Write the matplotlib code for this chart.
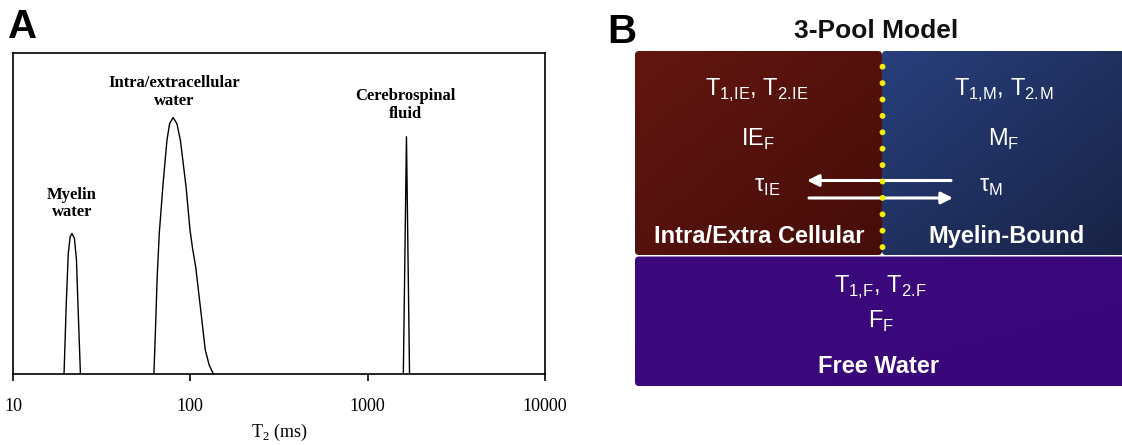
import numpy as np
import matplotlib
matplotlib.use("Agg")
import matplotlib.pyplot as plt
from matplotlib.patches import FancyBboxPatch, Circle

# T2 distribution (amplitude normalised to the axes height)
myelin_t2 = [19.4, 20.0, 20.5, 21.0, 21.5, 22.2, 22.8, 23.2, 24.0]
myelin_amp = [0, 0.23, 0.376, 0.427, 0.438, 0.422, 0.355, 0.23, 0]

ie_t2 = [62.3, 63.5, 65.0, 66.8, 70.2, 73.8, 76.4, 80.0, 84.0, 87.9, 94.6,
         99.5, 103.0, 107.2, 115.6, 121.4, 127.7, 134.9]
ie_amp = [0, 0.127, 0.30, 0.438, 0.593, 0.728, 0.780, 0.799, 0.780, 0.728,
          0.583, 0.45, 0.39, 0.334, 0.178, 0.075, 0.028, 0]

csf_t2 = [1589, 1655, 1722]
csf_amp = [0, 0.739, 0]

peak_labels = ["Myelin\nwater", "Intra/extracellular\nwater", "Cerebrospinal\nfluid"]
peak_label_x = [21.5, 81.5, 1637]
peak_label_y = [0.531, 0.879, 0.837]

x_ticks = [10, 100, 1000, 10000]
x_tick_labels = ["10", "100", "1000", "10000"]

fig = plt.figure(figsize=(11.22, 4.45), dpi=100)

# ---------------- panel A ----------------
serif = "Liberation Serif"
ax = fig.add_axes([13 / 1122, (445 - 374) / 445, (545 - 13) / 1122, (374 - 53) / 445])
ax.plot(myelin_t2, myelin_amp, color="black", lw=1.0)
ax.plot(ie_t2, ie_amp, color="black", lw=1.0)
ax.plot(csf_t2, csf_amp, color="black", lw=1.0)
ax.set_xscale("log")
ax.set_xlim(10, 10000)
ax.set_ylim(0, 1)
ax.set_xticks(x_ticks)
ax.set_xticklabels(x_tick_labels, family=serif, fontsize=13)
ax.xaxis.set_minor_locator(matplotlib.ticker.NullLocator())
ax.set_yticks([])
ax.tick_params(axis="x", direction="out", length=5, width=1.2, pad=12)
for s in ax.spines.values():
    s.set_linewidth(1.2)
ax.set_xlabel(r"T$_\mathregular{2}$ (ms)", family=serif, fontsize=13, labelpad=5)

for lab, lx, ly in zip(peak_labels, peak_label_x, peak_label_y):
    ax.text(lx, ly, lab, ha="center", va="center", family=serif,
            fontweight="bold", fontsize=12, linespacing=1.15)

fig.text(8 / 1122, 1 - 38 / 445, "A", family="Liberation Sans",
         fontweight="bold", fontsize=29, va="baseline", ha="left")

# ---------------- panel B ----------------
sans = "Liberation Sans"
bx = fig.add_axes([600 / 1122, 0, 522 / 1122, 1])
bx.set_xlim(600, 1122)
bx.set_ylim(445, 0)
bx.axis("off")


def gradient_box(x0, y0, x1, y1, c_tl, c_br, rad=4):
    patch = FancyBboxPatch((x0, y0), x1 - x0, y1 - y0,
                           boxstyle=f"round,pad=0,rounding_size={rad}",
                           fc="none", ec="none")
    bx.add_patch(patch)
    n = 60
    gx, gy = np.meshgrid(np.linspace(0, 1, n), np.linspace(0, 1, n))
    t = (gx + gy) / 2
    c0 = np.array(matplotlib.colors.to_rgb(c_tl))
    c1 = np.array(matplotlib.colors.to_rgb(c_br))
    img = c0[None, None, :] * (1 - t[..., None]) + c1[None, None, :] * t[..., None]
    im = bx.imshow(img, extent=(x0, x1, y1, y0), interpolation="bilinear",
                   aspect="auto", zorder=1)
    im.set_clip_path(patch)


gradient_box(635, 51, 882, 255, "#631610", "#460d09")
gradient_box(882, 51, 1130, 255, "#283f7c", "#182244")
gradient_box(635, 256.5, 1130, 386, "#3c0a7c", "#38077a")
bx.set_xlim(600, 1122)
bx.set_ylim(445, 0)

# dotted boundary between the two compartments
for yy in 66.7 + 16.4 * np.arange(12):
    bx.add_patch(Circle((882.5, yy), 2.2, color="#f2f000", zorder=5))

# exchange arrows
bx.annotate("", xy=(807, 180.5), xytext=(951, 180.5),
            arrowprops=dict(arrowstyle="-|>,head_length=0.7,head_width=0.35",
                            color="white", lw=2.2, shrinkA=0, shrinkB=0), zorder=4)
bx.annotate("", xy=(953, 198), xytext=(809, 198),
            arrowprops=dict(arrowstyle="-|>,head_length=0.7,head_width=0.35",
                            color="white", lw=2.2, shrinkA=0, shrinkB=0), zorder=4)

bx.text(876.5, 38, "3-Pool Model", ha="center", va="baseline", family=sans,
        fontweight="bold", fontsize=19, color="#111111")
fig.text(607 / 1122, 1 - 43 / 445, "B", family=sans, fontweight="bold",
         fontsize=29, va="baseline", ha="left")

w = dict(color="white", family=sans, ha="center", va="baseline", zorder=6)
bx.text(757, 95.5, r"T$_\mathregular{1{,}IE}$, T$_\mathregular{2.\!IE}$", fontsize=17, **w)
bx.text(1004, 95.5, r"T$_\mathregular{1{,}M}$, T$_\mathregular{2.\!M}$", fontsize=17, **w)
bx.text(758, 146, r"IE$_\mathregular{F}$", fontsize=17, **w)
bx.text(1004, 146, r"M$_\mathregular{F}$", fontsize=17, **w)
bx.text(767, 192, r"τ$_\mathregular{IE}$", fontsize=17, **w)
bx.text(991, 192, r"τ$_\mathregular{M}$", fontsize=17, **w)
bx.text(759, 243, "Intra/Extra Cellular", fontsize=17, fontweight="bold", **w)
bx.text(1006, 243, "Myelin-Bound", fontsize=17, fontweight="bold", **w)
bx.text(880.5, 293, r"T$_\mathregular{1{,}F}$, T$_\mathregular{2.\!F}$", fontsize=17, **w)
bx.text(881, 328, r"F$_\mathregular{F}$", fontsize=17, **w)
bx.text(879, 373, "Free Water", fontsize=17, fontweight="bold", **w)

fig.savefig("out.png", dpi=100)
